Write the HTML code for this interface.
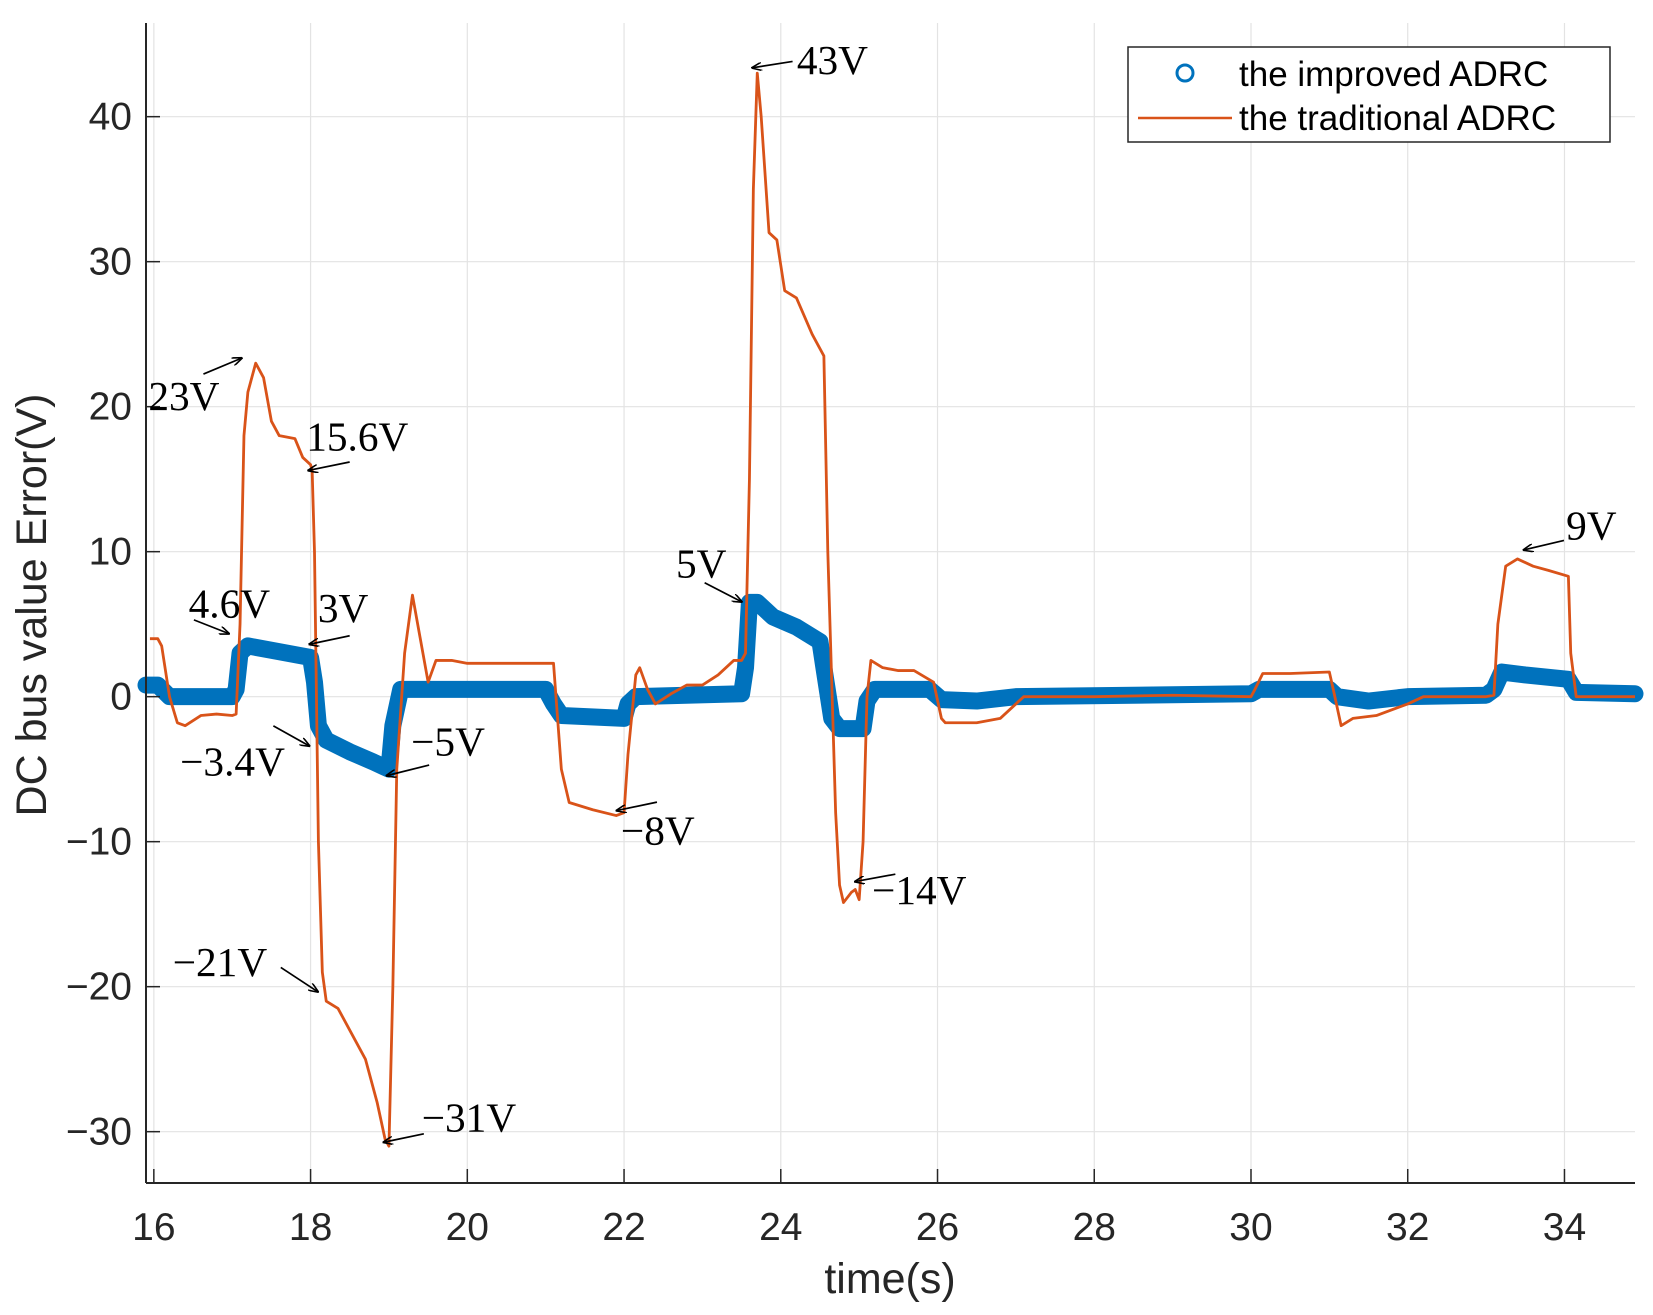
<!DOCTYPE html>
<html><head><meta charset="utf-8"><style>
html,body{margin:0;padding:0;background:#fff}
svg{display:block}
text{font-family:"Liberation Sans",Arial,sans-serif}
.ann{font-family:"Liberation Serif","Times New Roman",serif;font-size:39px;fill:#000}
</style></head><body>
<svg id="chart" width="1653" height="1315" viewBox="0 0 1653 1315">
<defs><marker id="ah" markerWidth="10" markerHeight="8" refX="9" refY="4" orient="auto" markerUnits="userSpaceOnUse"><path d="M0,0 L10,4 L0,8" fill="none" stroke="#000" stroke-width="1.5"/></marker></defs>
<rect x="0" y="0" width="1653" height="1315" fill="#fff"/>
<g id="grid"></g>
<g id="series"></g>
<g id="axes"></g>
<g transform="scale(1.0596)">
 <g stroke="#000" stroke-width="1.6" fill="none" marker-end="url(#ah)">
  <line x1="192" y1="353" x2="228" y2="338"/>
  <line x1="330" y1="436" x2="291" y2="444"/>
  <line x1="183" y1="585" x2="216" y2="598"/>
  <line x1="330" y1="600" x2="292" y2="608"/>
  <line x1="258" y1="685" x2="292" y2="704"/>
  <line x1="405" y1="722" x2="365" y2="732"/>
  <line x1="265" y1="913" x2="300" y2="936"/>
  <line x1="400" y1="1070" x2="362" y2="1078"/>
  <line x1="620" y1="757" x2="582" y2="765"/>
  <line x1="665" y1="550" x2="700" y2="568"/>
  <line x1="748" y1="58" x2="710" y2="64"/>
  <line x1="845" y1="825" x2="807" y2="832"/>
  <line x1="1476" y1="510" x2="1438" y2="519"/>
 </g>
 <text class="ann" x="140" y="387">23V</text>
 <text class="ann" x="289" y="425">15.6V</text>
 <text class="ann" x="178" y="583">4.6V</text>
 <text class="ann" x="300" y="587">3V</text>
 <text class="ann" x="170" y="732">−3.4V</text>
 <text class="ann" x="388" y="713">−5V</text>
 <text class="ann" x="163" y="921">−21V</text>
 <text class="ann" x="398" y="1068">−31V</text>
 <text class="ann" x="586" y="797">−8V</text>
 <text class="ann" x="638" y="545">5V</text>
 <text class="ann" x="752" y="70">43V</text>
 <text class="ann" x="823" y="853">−14V</text>
 <text class="ann" x="1478" y="509">9V</text>
</g>
<g>
 <rect x="1128" y="47" width="482" height="95" fill="#fff" stroke="#262626" stroke-width="1.5"/>
 <circle cx="1185" cy="73" r="8" fill="none" stroke="#0072BD" stroke-width="3"/>
 <text x="1239" y="86" font-size="35" fill="#000">the improved ADRC</text>
 <line x1="1138" y1="118" x2="1232" y2="118" stroke="#D95319" stroke-width="2.5"/>
 <text x="1239" y="130" font-size="35" fill="#000">the traditional ADRC</text>
</g>
<text x="890" y="1293" font-size="43" text-anchor="middle" fill="#262626">time(s)</text>
<text transform="translate(46,605) rotate(-90)" font-size="43" text-anchor="middle" fill="#262626">DC bus value Error(V)</text>
</svg>
<script>
const xTicks=[16,18,20,22,24,26,28,30,32,34];
const yTicks=[-30,-20,-10,0,10,20,30,40];
const tradT=[15.95,16.05,16.1,16.2,16.3,16.4,16.6,16.8,17.0,17.05,17.1,17.15,17.2,17.3,17.4,17.5,17.6,17.8,17.9,18.0,18.02,18.05,18.1,18.15,18.2,18.35,18.5,18.7,18.85,18.95,19.0,19.05,19.1,19.2,19.3,19.4,19.5,19.6,19.8,20,21,21.1,21.2,21.3,21.6,21.9,22.0,22.05,22.15,22.2,22.3,22.4,22.6,22.8,23.0,23.2,23.4,23.5,23.55,23.6,23.65,23.7,23.75,23.85,23.95,24.05,24.2,24.4,24.5,24.55,24.6,24.7,24.75,24.8,24.9,24.95,25.0,25.05,25.1,25.15,25.3,25.5,25.7,25.95,26.05,26.1,26.3,26.5,26.8,27.0,27.1,28,29,30,30.05,30.15,30.5,31.0,31.05,31.15,31.3,31.6,32.0,32.2,33,33.1,33.15,33.25,33.4,33.6,33.8,34.05,34.08,34.15,34.3,34.9];
const tradV=[4,4,3.5,0,-1.8,-2,-1.3,-1.2,-1.3,-1.2,5,18,21,23,22,19,18,17.8,16.5,16,15.6,10,-10,-19,-21,-21.5,-23,-25,-28,-30.5,-31,-20,-5,3,7,4,1,2.5,2.5,2.3,2.3,2.3,-5,-7.3,-7.8,-8.2,-8,-4,1.5,2,0.5,-0.5,0.2,0.8,0.8,1.5,2.5,2.5,3,15,35,43,40,32,31.5,28,27.5,25,24,23.5,10,-8,-13,-14.2,-13.5,-13.3,-14,-10,0,2.5,2,1.8,1.8,1,-1.5,-1.8,-1.8,-1.8,-1.5,-0.5,0,0,0.1,0,0.5,1.6,1.6,1.7,0.5,-2,-1.5,-1.3,-0.5,0,0,0.1,5,9,9.5,9,8.7,8.3,3,0,0,0];
const impT=[15.9,16.05,16.2,17.0,17.05,17.1,17.2,17.5,18.0,18.05,18.1,18.2,18.5,18.8,19.0,19.05,19.15,19.3,21,21.1,21.2,22,22.05,22.15,23.5,23.55,23.6,23.7,23.9,24.2,24.5,24.55,24.65,24.75,25.05,25.1,25.2,25.9,26.05,26.5,27,30,30.1,31,31.1,31.5,32,33,33.1,33.2,33.5,34.05,34.15,34.9];
const impV=[0.8,0.8,0,0,0.5,3,3.5,3.2,2.7,1,-2,-3,-3.8,-4.5,-5,-2,0.5,0.5,0.5,-0.5,-1.3,-1.5,-0.5,0,0.2,2,6.5,6.5,5.5,4.8,3.8,2,-1.5,-2.2,-2.2,-0.3,0.5,0.5,-0.2,-0.3,0,0.2,0.5,0.5,0,-0.3,0,0.1,0.5,1.7,1.5,1.2,0.3,0.2];
const X0=146,X1=1635,Y0=23,Y1=1183,xmin=15.9,xmax=34.9,ymin=-33.54,ymax=46.46;
const sx=v=>X0+(v-xmin)/(xmax-xmin)*(X1-X0);
const sy=v=>Y1-(v-ymin)/(ymax-ymin)*(Y1-Y0);
const NS="http://www.w3.org/2000/svg";
function mk(tag,attrs,parent){const e=document.createElementNS(NS,tag);for(const k in attrs)e.setAttribute(k,attrs[k]);document.getElementById(parent).appendChild(e);return e;}
xTicks.forEach(t=>{
 const g=mk('line',{x1:sx(t),x2:sx(t),y1:Y0,y2:Y1,stroke:'#e3e3e3','stroke-width':1.2},'grid');
 
 
 const tk=mk('line',{x1:sx(t),x2:sx(t),y1:Y1,y2:Y1-14,stroke:'#262626','stroke-width':1.5},'axes');
 
 
 const lb=mk('text',{x:sx(t),y:Y1+57,'font-size':39,'text-anchor':'middle',fill:'#262626'},'axes');
 lb.textContent=t;
 
 
});
yTicks.forEach(t=>{
 const g=mk('line',{x1:X0,x2:X1,y1:sy(t),y2:sy(t),stroke:'#e3e3e3','stroke-width':1.2},'grid');
 
 
 const tk=mk('line',{x1:X0,x2:X0+14,y1:sy(t),y2:sy(t),stroke:'#262626','stroke-width':1.5},'axes');
 
 
 const lb=mk('text',{x:X0-14,y:sy(t)+13,'font-size':39,'text-anchor':'end',fill:'#262626'},'axes');
 lb.textContent=t<0?'\u2212'+(-t):t;
 
 
});
const xa=mk('line',{x1:X0,x2:X1,y1:Y1,y2:Y1,stroke:'#262626','stroke-width':2},'axes');


const ya=mk('line',{x1:X0,x2:X0,y1:Y0,y2:Y1,stroke:'#262626','stroke-width':2},'axes');


const ip=mk('polyline',{points:impT.map((t,i)=>sx(t)+','+sy(impV[i])).join(' '),fill:'none',stroke:'#0072BD','stroke-width':17,'stroke-linejoin':'round','stroke-linecap':'round'},'series');


const tp=mk('polyline',{points:tradT.map((t,i)=>sx(t)+','+sy(tradV[i])).join(' '),fill:'none',stroke:'#D95319','stroke-width':2.8,'stroke-linejoin':'round'},'series');


</script>
</body></html>
